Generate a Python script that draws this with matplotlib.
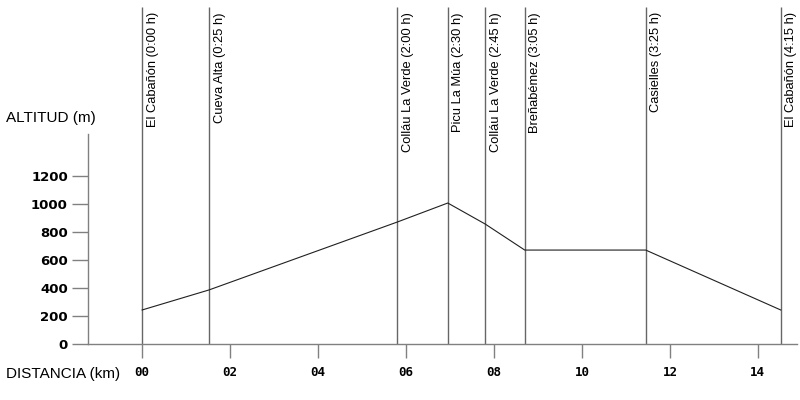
import matplotlib
matplotlib.use('Agg')
import matplotlib.pyplot as plt

# waypoints of the route
places = ['El Cabañón (0:00 h)', 'Cueva Alta (0:25 h)', 'Colláu La Verde (2:00 h)',
          'Picu La Múa (2:30 h)', 'Colláu La Verde (2:45 h)', 'Breñabémez (3:05 h)',
          'Casielles (3:25 h)', 'El Cabañón (4:15 h)']
dist_km = [0.0, 1.52, 5.80, 6.95, 7.80, 8.70, 11.45, 14.52]
alt_m = [243, 386, 871, 1007, 857, 671, 671, 243]

xticks = [0, 2, 4, 6, 8, 10, 12, 14]
xticklabels = ['00', '02', '04', '06', '08', '10', '12', '14']
yticks = [0, 200, 400, 600, 800, 1000, 1200]

plt.rcParams['font.family'] = ['Liberation Sans', 'DejaVu Sans']

fig = plt.figure(figsize=(8, 4), dpi=100)
ax = fig.add_axes([88/800, 56/400, 709/800, 210/400])
ax.set_xlim(-1.23, 14.89)
ax.set_ylim(0, 1500)

for s in ['top', 'right']:
    ax.spines[s].set_visible(False)
for s in ['left', 'bottom']:
    ax.spines[s].set_color('#808080')
    ax.spines[s].set_linewidth(1.0)

# profile
ax.plot(dist_km, alt_m, color='#202020', lw=0.8, zorder=3)

# waypoint lines and labels (going above the axes)
ax.vlines(dist_km, 0, 2410, color='#666666', lw=1.0, clip_on=False, zorder=2)
for x, name in zip(dist_km, places):
    ax.text(x + 0.24, 2370, name, rotation=90, ha='center', va='top',
            fontsize=9.3, color='black', clip_on=False)

ax.set_xticks(xticks)
ax.set_xticklabels(xticklabels, fontsize=9, fontweight='bold', family='DejaVu Sans Mono')
ax.set_yticks(yticks)
ax.set_yticklabels([str(v) for v in yticks], fontsize=9.5, fontweight='bold',
                   family='DejaVu Sans')
ax.tick_params(axis='x', length=10, width=1, color='#808080', pad=6)
ax.tick_params(axis='y', length=11.5, width=1, color='#808080', pad=3)

fig.text(6/800, 1 - 118/400, 'ALTITUD (m)', fontsize=11, va='center', ha='left')
fig.text(6/800, 1 - 374/400, 'DISTANCIA (km)', fontsize=11, va='center', ha='left')

fig.savefig('out.png', dpi=100)
